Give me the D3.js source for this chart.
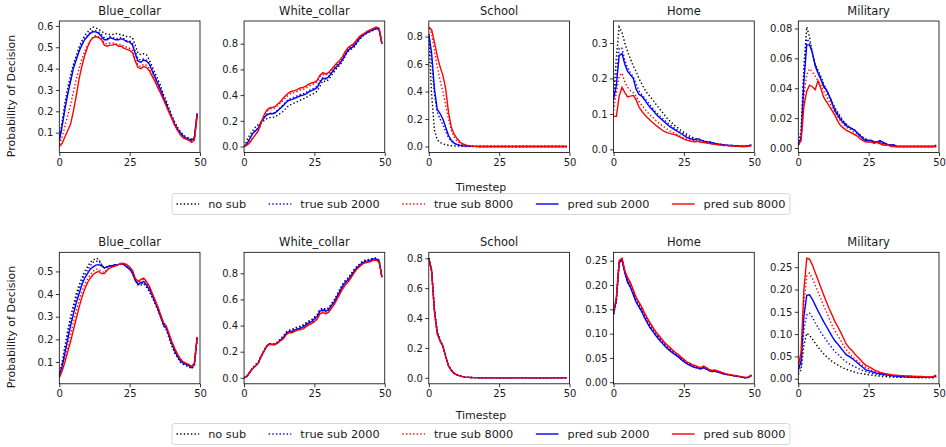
<!DOCTYPE html>
<html lang="en">
<head>
<meta charset="utf-8">
<title>Probability of Decision</title>
<script src="https://cdn.jsdelivr.net/npm/d3@7"></script>
<style>
  body { margin: 0; background: #fff; }
  svg text { font-family: "DejaVu Sans", sans-serif; fill: #1a1a1a; }
</style>
</head>
<body>
<div id="chart"></div>
<script>
// ---- data ----
const timesteps = d3.range(50);
const panelTitles = ["Blue_collar", "White_collar", "School", "Home", "Military"];
const seriesNames = ["no sub", "true sub 2000", "true sub 8000", "pred sub 2000", "pred sub 8000"];

// top row
const topBlueNo  = [0.07,0.15,0.24,0.31,0.37,0.42,0.46,0.50,0.53,0.555, 0.57,0.585,0.595,0.59,0.585,0.575,0.565,0.56,0.56,0.56, 0.565,0.56,0.56,0.555,0.55,0.55,0.545,0.51,0.47,0.465, 0.47,0.465,0.44,0.41,0.38,0.35,0.32,0.28,0.25,0.215, 0.18,0.15,0.125,0.105,0.09,0.08,0.075,0.07,0.08,0.19];
const topBlueTr2 = [0.065,0.135,0.215,0.285,0.345,0.405,0.445,0.485,0.515,0.54, 0.555,0.57,0.578,0.577,0.572,0.56,0.545,0.54,0.55,0.545, 0.54,0.54,0.545,0.54,0.53,0.53,0.52,0.48,0.445,0.44, 0.445,0.44,0.425,0.395,0.365,0.335,0.305,0.27,0.24,0.205, 0.175,0.145,0.12,0.1,0.085,0.075,0.07,0.065,0.075,0.19];
const topBlueTr8 = [0.045,0.08,0.13,0.18,0.23,0.29,0.35,0.40,0.445,0.48, 0.51,0.53,0.55,0.555,0.55,0.54,0.52,0.515,0.52,0.52, 0.515,0.51,0.515,0.505,0.5,0.495,0.485,0.445,0.415,0.41, 0.42,0.415,0.4,0.375,0.345,0.32,0.29,0.26,0.23,0.2, 0.17,0.14,0.115,0.095,0.08,0.07,0.065,0.06,0.07,0.185];
const topBluePr2 = [0.06,0.13,0.21,0.28,0.34,0.40,0.44,0.48,0.51,0.535, 0.55,0.565,0.573,0.572,0.565,0.55,0.535,0.535,0.545,0.54, 0.535,0.535,0.54,0.535,0.525,0.525,0.51,0.47,0.435,0.43, 0.44,0.435,0.42,0.39,0.36,0.33,0.30,0.265,0.235,0.2, 0.17,0.14,0.115,0.1,0.085,0.075,0.07,0.065,0.075,0.19];
const topBluePr8 = [0.035,0.05,0.08,0.11,0.14,0.20,0.27,0.35,0.41,0.46, 0.50,0.53,0.545,0.549,0.545,0.535,0.51,0.505,0.51,0.51, 0.515,0.505,0.505,0.495,0.49,0.485,0.475,0.435,0.405,0.4, 0.41,0.405,0.39,0.365,0.34,0.31,0.285,0.255,0.225,0.195, 0.165,0.135,0.11,0.09,0.075,0.07,0.065,0.055,0.065,0.18];

const topWhiteNo  = [0.0,0.05,0.09,0.12,0.15,0.17,0.18,0.2,0.215,0.225, 0.225,0.23,0.245,0.26,0.275,0.3,0.32,0.33,0.34,0.35, 0.36,0.37,0.38,0.395,0.405,0.415,0.43,0.47,0.51,0.505, 0.52,0.55,0.58,0.61,0.63,0.665,0.705,0.74,0.755,0.77, 0.8,0.83,0.855,0.87,0.885,0.895,0.905,0.915,0.905,0.8];
const topWhiteTr2 = [0.0,0.02,0.06,0.1,0.125,0.145,0.19,0.225,0.25,0.26, 0.26,0.265,0.285,0.305,0.325,0.35,0.37,0.375,0.385,0.395, 0.405,0.41,0.42,0.435,0.445,0.455,0.47,0.51,0.535,0.53, 0.545,0.575,0.6,0.63,0.65,0.68,0.72,0.755,0.77,0.785, 0.815,0.845,0.865,0.88,0.89,0.9,0.91,0.92,0.91,0.8];
const topWhiteTr8 = [0.0,0.01,0.035,0.065,0.09,0.12,0.17,0.23,0.27,0.29, 0.295,0.3,0.32,0.34,0.36,0.385,0.405,0.415,0.42,0.43, 0.44,0.445,0.455,0.47,0.48,0.49,0.505,0.545,0.56,0.555, 0.565,0.59,0.615,0.64,0.66,0.69,0.73,0.76,0.78,0.795, 0.825,0.85,0.865,0.88,0.895,0.905,0.915,0.925,0.915,0.8];
const topWhitePr2 = [0.0,0.02,0.06,0.1,0.12,0.14,0.19,0.22,0.245,0.255, 0.255,0.26,0.28,0.3,0.32,0.345,0.36,0.365,0.375,0.385, 0.395,0.4,0.41,0.425,0.435,0.445,0.46,0.5,0.53,0.525, 0.54,0.57,0.6,0.625,0.645,0.675,0.715,0.75,0.765,0.78, 0.81,0.84,0.86,0.875,0.89,0.9,0.91,0.92,0.91,0.8];
const topWhitePr8 = [0.0,0.01,0.03,0.06,0.09,0.12,0.18,0.24,0.28,0.30, 0.305,0.31,0.33,0.35,0.38,0.40,0.42,0.43,0.435,0.445, 0.455,0.46,0.47,0.485,0.495,0.5,0.515,0.555,0.575,0.565, 0.575,0.6,0.625,0.65,0.67,0.7,0.74,0.77,0.785,0.8, 0.83,0.855,0.87,0.885,0.9,0.91,0.92,0.93,0.92,0.8];

const topSchoolNo  = [0.8,0.38,0.12,0.05,0.03,0.02,0.013,0.009,0.006,0.004, 0.003,0.002,0.001,0.001,0,0,0,0,0,0, 0,0,0,0,0,0,0,0,0,0, 0,0,0,0,0,0,0,0,0,0, 0,0,0,0,0,0,0,0,0,0];
const topSchoolTr2 = [0.82,0.62,0.38,0.25,0.2,0.16,0.11,0.065,0.04,0.022, 0.013,0.008,0.005,0.003,0.002,0.001,0.001,0,0,0, 0,0,0,0,0,0,0,0,0,0, 0,0,0,0,0,0,0,0,0,0, 0,0,0,0,0,0,0,0,0,0];
const topSchoolTr8 = [0.86,0.82,0.7,0.58,0.48,0.4,0.3,0.2,0.12,0.07, 0.04,0.025,0.014,0.008,0.005,0.003,0.002,0.001,0,0, 0,0,0,0,0,0,0,0,0,0, 0,0,0,0,0,0,0,0,0,0, 0,0,0,0,0,0,0,0,0,0];
const topSchoolPr2 = [0.82,0.68,0.42,0.27,0.24,0.2,0.14,0.08,0.045,0.025, 0.015,0.01,0.006,0.004,0.003,0.002,0.001,0.001,0,0, 0,0,0,0,0,0,0,0,0,0, 0,0,0,0,0,0,0,0,0,0, 0,0,0,0,0,0,0,0,0,0];
const topSchoolPr8 = [0.87,0.85,0.76,0.66,0.58,0.52,0.42,0.25,0.14,0.09, 0.06,0.035,0.02,0.012,0.007,0.004,0.002,0.001,0,0, 0,0,0,0,0,0,0,0,0,0, 0,0,0,0,0,0,0,0,0,0, 0,0,0,0,0,0,0,0,0,0];

const topHomeNo  = [0.15,0.26,0.345,0.33,0.3,0.275,0.255,0.235,0.22,0.2, 0.185,0.17,0.158,0.148,0.139,0.128,0.118,0.108,0.098,0.088, 0.08,0.073,0.066,0.06,0.054,0.048,0.043,0.038,0.034,0.03, 0.028,0.026,0.024,0.022,0.02,0.018,0.016,0.015,0.014,0.013, 0.012,0.011,0.011,0.01,0.01,0.009,0.009,0.009,0.01,0.012];
const topHomeTr2 = [0.14,0.2,0.285,0.285,0.25,0.23,0.215,0.205,0.185,0.165, 0.155,0.145,0.135,0.125,0.115,0.105,0.097,0.09,0.083,0.076, 0.07,0.064,0.058,0.053,0.048,0.043,0.038,0.034,0.031,0.029, 0.03,0.027,0.024,0.022,0.021,0.019,0.017,0.015,0.014,0.013, 0.012,0.011,0.011,0.01,0.01,0.009,0.009,0.009,0.01,0.013];
const topHomeTr8 = [0.11,0.16,0.205,0.215,0.19,0.175,0.165,0.16,0.15,0.135, 0.125,0.115,0.105,0.097,0.09,0.082,0.075,0.069,0.063,0.057, 0.052,0.048,0.044,0.04,0.036,0.032,0.029,0.027,0.025,0.023, 0.025,0.022,0.02,0.019,0.018,0.016,0.015,0.014,0.013,0.012, 0.011,0.01,0.01,0.009,0.009,0.008,0.008,0.008,0.009,0.011];
const topHomePr2 = [0.14,0.18,0.265,0.27,0.24,0.22,0.21,0.2,0.17,0.155, 0.15,0.14,0.128,0.118,0.11,0.1,0.092,0.085,0.078,0.071, 0.064,0.059,0.054,0.049,0.044,0.039,0.034,0.031,0.028,0.027, 0.03,0.026,0.023,0.021,0.021,0.019,0.017,0.015,0.014,0.013, 0.012,0.011,0.011,0.01,0.01,0.009,0.009,0.009,0.01,0.013];
const topHomePr8 = [0.093,0.093,0.15,0.175,0.16,0.148,0.15,0.152,0.14,0.12, 0.108,0.098,0.09,0.082,0.075,0.068,0.062,0.056,0.051,0.047, 0.045,0.043,0.041,0.037,0.033,0.029,0.026,0.024,0.022,0.021, 0.023,0.02,0.019,0.018,0.017,0.015,0.014,0.013,0.012,0.011, 0.011,0.01,0.01,0.009,0.009,0.008,0.008,0.008,0.009,0.011];

const topMilNo  = [0.002,0.012,0.055,0.081,0.074,0.064,0.056,0.052,0.048,0.043, 0.039,0.035,0.031,0.027,0.024,0.021,0.018,0.016,0.014,0.013, 0.012,0.01,0.009,0.007,0.006,0.005,0.005,0.004,0.004,0.004, 0.003,0.003,0.002,0.002,0.002,0.001,0.001,0.001,0.001,0.001, 0.001,0.001,0.001,0.001,0.001,0.001,0.001,0.001,0.001,0.001];
const topMilTr2 = [0.002,0.01,0.05,0.073,0.071,0.063,0.056,0.051,0.047,0.042, 0.038,0.034,0.03,0.026,0.023,0.02,0.018,0.016,0.014,0.013, 0.012,0.01,0.008,0.007,0.006,0.005,0.005,0.004,0.004,0.004, 0.003,0.003,0.002,0.002,0.002,0.001,0.001,0.001,0.001,0.001, 0.001,0.001,0.001,0.001,0.001,0.001,0.001,0.001,0.001,0.001];
const topMilTr8 = [0.002,0.006,0.035,0.049,0.053,0.051,0.048,0.045,0.042,0.038, 0.035,0.031,0.027,0.024,0.021,0.018,0.016,0.014,0.013,0.012, 0.01,0.009,0.008,0.006,0.005,0.005,0.004,0.004,0.003,0.003, 0.003,0.002,0.002,0.002,0.001,0.001,0.001,0.001,0.001,0.001, 0.001,0.001,0.001,0.001,0.001,0.001,0.001,0.001,0.001,0.001];
const topMilPr2 = [0.002,0.007,0.045,0.069,0.069,0.064,0.055,0.05,0.046,0.041, 0.039,0.035,0.03,0.025,0.022,0.019,0.017,0.015,0.014,0.013, 0.012,0.01,0.008,0.006,0.005,0.005,0.005,0.004,0.004,0.005, 0.004,0.003,0.002,0.002,0.002,0.001,0.001,0.001,0.001,0.001, 0.001,0.001,0.001,0.001,0.001,0.001,0.001,0.001,0.001,0.002];
const topMilPr8 = [0.002,0.005,0.028,0.038,0.042,0.041,0.039,0.045,0.04,0.034, 0.031,0.028,0.025,0.022,0.018,0.015,0.0135,0.012,0.011,0.01, 0.009,0.008,0.006,0.005,0.004,0.004,0.004,0.003,0.004,0.003, 0.002,0.002,0.002,0.001,0.001,0.001,0.001,0.001,0.001,0.001, 0.001,0.001,0.001,0.001,0.001,0.001,0.001,0.001,0.001,0.001];

// bottom row
const botBlueNo  = [0.04,0.1,0.17,0.24,0.3,0.35,0.4,0.44,0.47,0.5, 0.52,0.54,0.55,0.558,0.555,0.53,0.515,0.52,0.525,0.525, 0.53,0.53,0.535,0.53,0.52,0.51,0.49,0.46,0.44,0.44, 0.445,0.43,0.41,0.385,0.36,0.33,0.3,0.26,0.245,0.205, 0.17,0.14,0.12,0.1,0.09,0.085,0.08,0.07,0.085,0.205];
const botBlueTr2 = [0.04,0.09,0.15,0.22,0.28,0.33,0.38,0.42,0.455,0.485, 0.505,0.525,0.54,0.545,0.545,0.53,0.515,0.52,0.525,0.525, 0.53,0.53,0.535,0.53,0.52,0.51,0.49,0.46,0.44,0.445, 0.45,0.435,0.415,0.39,0.36,0.33,0.3,0.26,0.245,0.21, 0.175,0.145,0.12,0.1,0.09,0.085,0.08,0.07,0.085,0.205];
const botBlueTr8 = [0.035,0.07,0.12,0.17,0.22,0.275,0.325,0.37,0.41,0.44, 0.465,0.485,0.5,0.51,0.51,0.5,0.495,0.51,0.52,0.52, 0.525,0.53,0.535,0.53,0.525,0.515,0.5,0.465,0.45,0.46, 0.465,0.45,0.43,0.4,0.37,0.34,0.305,0.27,0.255,0.22, 0.185,0.155,0.13,0.11,0.1,0.09,0.085,0.078,0.09,0.21];
const botBluePr2 = [0.04,0.08,0.14,0.2,0.26,0.31,0.36,0.4,0.44,0.47, 0.49,0.51,0.52,0.528,0.53,0.525,0.515,0.52,0.525,0.525, 0.53,0.53,0.535,0.53,0.52,0.51,0.495,0.46,0.445,0.45, 0.455,0.44,0.42,0.395,0.365,0.335,0.3,0.265,0.25,0.215, 0.18,0.15,0.125,0.105,0.095,0.09,0.085,0.075,0.09,0.21];
const botBluePr8 = [0.03,0.06,0.1,0.145,0.19,0.24,0.29,0.34,0.385,0.42, 0.45,0.47,0.485,0.495,0.5,0.49,0.49,0.505,0.515,0.52, 0.525,0.53,0.535,0.535,0.53,0.52,0.505,0.47,0.455,0.465, 0.47,0.455,0.435,0.405,0.375,0.345,0.31,0.275,0.26,0.225, 0.19,0.16,0.135,0.115,0.1,0.095,0.09,0.08,0.095,0.21];

const botWhiteNo  = [0.0,0.015,0.045,0.075,0.1,0.12,0.165,0.205,0.245,0.26, 0.26,0.26,0.275,0.3,0.32,0.35,0.365,0.37,0.38,0.39, 0.395,0.405,0.42,0.435,0.445,0.465,0.485,0.525,0.535,0.525, 0.535,0.565,0.595,0.635,0.675,0.715,0.745,0.765,0.795,0.825, 0.85,0.87,0.89,0.9,0.905,0.91,0.915,0.915,0.9,0.77];
const botWhiteTr2 = [0.0,0.01,0.045,0.075,0.095,0.115,0.165,0.205,0.245,0.26, 0.26,0.26,0.275,0.295,0.315,0.345,0.36,0.365,0.375,0.385, 0.39,0.4,0.415,0.43,0.44,0.46,0.48,0.52,0.53,0.52, 0.53,0.56,0.59,0.63,0.67,0.71,0.74,0.76,0.79,0.82, 0.845,0.865,0.885,0.895,0.9,0.905,0.915,0.915,0.9,0.77];
const botWhiteTr8 = [0.0,0.01,0.04,0.07,0.09,0.11,0.16,0.2,0.24,0.255, 0.255,0.255,0.268,0.288,0.305,0.335,0.35,0.35,0.36,0.37, 0.375,0.383,0.398,0.413,0.423,0.44,0.46,0.5,0.51,0.5, 0.51,0.54,0.57,0.61,0.65,0.69,0.72,0.745,0.775,0.805, 0.835,0.855,0.875,0.885,0.89,0.895,0.905,0.905,0.89,0.77];
const botWhitePr2 = [0.0,0.01,0.04,0.07,0.09,0.11,0.16,0.2,0.24,0.26, 0.255,0.255,0.27,0.29,0.31,0.34,0.355,0.355,0.365,0.375, 0.38,0.39,0.405,0.42,0.43,0.45,0.47,0.51,0.52,0.51, 0.52,0.55,0.58,0.62,0.66,0.7,0.73,0.75,0.78,0.81, 0.84,0.86,0.88,0.89,0.895,0.9,0.91,0.91,0.895,0.77];
const botWhitePr8 = [0.0,0.01,0.04,0.07,0.09,0.11,0.16,0.2,0.24,0.255, 0.255,0.255,0.265,0.285,0.3,0.33,0.345,0.345,0.355,0.365, 0.37,0.375,0.39,0.405,0.415,0.43,0.45,0.49,0.5,0.49, 0.5,0.53,0.56,0.6,0.64,0.68,0.71,0.735,0.765,0.8, 0.83,0.85,0.87,0.88,0.885,0.89,0.9,0.9,0.885,0.77];

const botSchoolNo  = [0.8,0.72,0.46,0.31,0.255,0.215,0.145,0.085,0.052,0.032, 0.02,0.013,0.008,0.005,0.003,0.002,0.001,0.001,0,0, 0,0,0,0,0,0,0,0,0,0, 0,0,0,0,0,0,0,0,0,0, 0,0,0,0,0,0,0,0,0,0];
const botSchoolTr2 = [0.8,0.72,0.46,0.305,0.25,0.21,0.14,0.082,0.05,0.03, 0.02,0.013,0.008,0.005,0.003,0.002,0.001,0.001,0,0, 0,0,0,0,0,0,0,0,0,0, 0,0,0,0,0,0,0,0,0,0, 0,0,0,0,0,0,0,0,0,0];
const botSchoolTr8 = [0.8,0.71,0.45,0.3,0.25,0.21,0.14,0.08,0.05,0.03, 0.02,0.013,0.008,0.005,0.003,0.002,0.001,0.001,0,0, 0,0,0,0,0,0,0,0,0,0, 0,0,0,0,0,0,0,0,0,0, 0,0,0,0,0,0,0,0,0,0];
const botSchoolPr2 = [0.8,0.72,0.455,0.3,0.25,0.215,0.145,0.082,0.05,0.03, 0.02,0.013,0.008,0.005,0.003,0.002,0.001,0.001,0,0, 0,0,0,0,0,0,0,0,0,0, 0,0,0,0,0,0,0,0,0,0, 0,0,0,0,0,0,0,0,0,0];
const botSchoolPr8 = [0.8,0.71,0.44,0.295,0.245,0.21,0.14,0.08,0.048,0.03, 0.02,0.013,0.008,0.005,0.003,0.002,0.001,0.001,0,0, 0,0,0,0,0,0,0,0,0,0, 0,0,0,0,0,0,0,0,0,0, 0,0,0,0,0,0,0,0,0,0];

const botHomeNo  = [0.14,0.165,0.245,0.252,0.226,0.208,0.198,0.183,0.168,0.158, 0.148,0.136,0.125,0.115,0.106,0.098,0.091,0.084,0.077,0.071, 0.066,0.061,0.057,0.053,0.048,0.043,0.039,0.036,0.033,0.031, 0.029,0.027,0.03,0.027,0.024,0.022,0.023,0.021,0.019,0.017, 0.016,0.015,0.014,0.013,0.012,0.011,0.01,0.009,0.01,0.014];
const botHomeTr2 = [0.14,0.17,0.25,0.255,0.228,0.21,0.2,0.185,0.17,0.16, 0.15,0.138,0.127,0.117,0.108,0.1,0.093,0.086,0.079,0.073, 0.068,0.063,0.058,0.054,0.049,0.044,0.04,0.037,0.034,0.032, 0.03,0.028,0.031,0.028,0.025,0.023,0.024,0.022,0.02,0.018, 0.016,0.015,0.014,0.013,0.012,0.011,0.01,0.009,0.01,0.014];
const botHomeTr8 = [0.142,0.172,0.248,0.254,0.229,0.212,0.202,0.188,0.173,0.163, 0.153,0.141,0.13,0.12,0.111,0.102,0.095,0.088,0.081,0.075, 0.07,0.064,0.059,0.055,0.05,0.045,0.041,0.038,0.035,0.033, 0.031,0.029,0.032,0.029,0.026,0.024,0.024,0.022,0.02,0.018, 0.016,0.015,0.014,0.013,0.012,0.011,0.01,0.009,0.01,0.014];
const botHomePr2 = [0.14,0.17,0.245,0.252,0.225,0.205,0.195,0.18,0.165,0.155, 0.145,0.133,0.122,0.112,0.104,0.096,0.089,0.082,0.076,0.07, 0.065,0.06,0.056,0.052,0.047,0.042,0.038,0.035,0.032,0.03, 0.029,0.027,0.03,0.027,0.024,0.022,0.023,0.021,0.019,0.017, 0.016,0.015,0.014,0.013,0.012,0.011,0.01,0.009,0.01,0.014];
const botHomePr8 = [0.145,0.175,0.25,0.255,0.23,0.215,0.205,0.19,0.175,0.165, 0.155,0.143,0.132,0.122,0.113,0.104,0.097,0.09,0.083,0.077, 0.072,0.066,0.061,0.057,0.052,0.047,0.042,0.039,0.036,0.034, 0.032,0.03,0.033,0.03,0.026,0.024,0.025,0.023,0.021,0.019, 0.017,0.016,0.015,0.014,0.013,0.012,0.011,0.01,0.011,0.015];

const botMilNo  = [0.01,0.02,0.075,0.102,0.097,0.089,0.08,0.071,0.063,0.056, 0.05,0.044,0.039,0.035,0.031,0.027,0.024,0.021,0.019,0.017, 0.015,0.013,0.012,0.011,0.01,0.009,0.008,0.007,0.006,0.006, 0.005,0.005,0.004,0.004,0.004,0.003,0.003,0.003,0.003,0.003, 0.003,0.003,0.002,0.002,0.002,0.002,0.002,0.002,0.002,0.003];
const botMilTr2 = [0.015,0.03,0.11,0.143,0.147,0.138,0.126,0.115,0.104,0.095, 0.086,0.077,0.069,0.061,0.055,0.049,0.043,0.038,0.034,0.03, 0.027,0.024,0.021,0.018,0.016,0.014,0.012,0.011,0.01,0.009, 0.008,0.007,0.006,0.006,0.005,0.005,0.004,0.004,0.004,0.004, 0.004,0.003,0.003,0.003,0.003,0.003,0.003,0.003,0.003,0.005];
const botMilTr8 = [0.02,0.05,0.17,0.23,0.237,0.225,0.21,0.195,0.18,0.164, 0.15,0.135,0.12,0.108,0.097,0.087,0.075,0.065,0.058,0.051, 0.045,0.04,0.034,0.029,0.025,0.022,0.019,0.016,0.014,0.012, 0.011,0.01,0.009,0.008,0.007,0.007,0.006,0.006,0.005,0.005, 0.005,0.005,0.005,0.004,0.004,0.004,0.004,0.004,0.004,0.006];
const botMilPr2 = [0.02,0.04,0.14,0.187,0.188,0.178,0.165,0.152,0.14,0.128, 0.117,0.106,0.095,0.085,0.078,0.07,0.062,0.054,0.05,0.046, 0.041,0.036,0.03,0.025,0.02,0.018,0.016,0.014,0.012,0.011, 0.01,0.009,0.008,0.007,0.006,0.006,0.005,0.005,0.005,0.004, 0.004,0.004,0.004,0.004,0.004,0.003,0.003,0.003,0.004,0.006];
const botMilPr8 = [0.03,0.06,0.2,0.27,0.268,0.255,0.238,0.222,0.205,0.188, 0.172,0.157,0.143,0.128,0.117,0.105,0.092,0.078,0.07,0.064, 0.056,0.049,0.043,0.036,0.03,0.027,0.024,0.02,0.017,0.014, 0.013,0.011,0.01,0.009,0.008,0.008,0.007,0.007,0.006,0.006, 0.006,0.005,0.005,0.005,0.005,0.004,0.004,0.004,0.005,0.008];

// tick labels
const xTicks = [0, 25, 50];
const topYTicks = [[0.1,0.2,0.3,0.4,0.5,0.6],[0,0.2,0.4,0.6,0.8],[0,0.2,0.4,0.6,0.8],[0,0.1,0.2,0.3],[0,0.02,0.04,0.06,0.08]];
const botYTicks = [[0.1,0.2,0.3,0.4,0.5],[0,0.2,0.4,0.6,0.8],[0,0.2,0.4,0.6,0.8],[0,0.05,0.1,0.15,0.2,0.25],[0,0.05,0.1,0.15,0.2,0.25]];
const topYFormat = [".1f",".1f",".1f",".1f",".2f"];
const botYFormat = [".1f",".1f",".1f",".2f",".2f"];

// ---- layout / style ----
const W = 946, H = 447;
const panelW = 140.7, panelH = 131.5, panelStep = 184.75, panelX0 = 59.3;
const seriesStyle = [
  {color: "#000000", dash: "1.4,2.2"},
  {color: "#0000ff", dash: "1.4,2.2"},
  {color: "#ff0000", dash: "1.4,2.2"},
  {color: "#0000ff", dash: null},
  {color: "#ff0000", dash: null}
];

const rows = [
  {
    top: 21, labelY: 96, xlabelY: 187, legendY: 204,
    ticks: topYTicks, fmt: topYFormat,
    panels: [
      [topBlueNo, topBlueTr2, topBlueTr8, topBluePr2, topBluePr8],
      [topWhiteNo, topWhiteTr2, topWhiteTr8, topWhitePr2, topWhitePr8],
      [topSchoolNo, topSchoolTr2, topSchoolTr8, topSchoolPr2, topSchoolPr8],
      [topHomeNo, topHomeTr2, topHomeTr8, topHomePr2, topHomePr8],
      [topMilNo, topMilTr2, topMilTr8, topMilPr2, topMilPr8]
    ]
  },
  {
    top: 252.3, labelY: 327, xlabelY: 415, legendY: 434,
    ticks: botYTicks, fmt: botYFormat,
    panels: [
      [botBlueNo, botBlueTr2, botBlueTr8, botBluePr2, botBluePr8],
      [botWhiteNo, botWhiteTr2, botWhiteTr8, botWhitePr2, botWhitePr8],
      [botSchoolNo, botSchoolTr2, botSchoolTr8, botSchoolPr2, botSchoolPr8],
      [botHomeNo, botHomeTr2, botHomeTr8, botHomePr2, botHomePr8],
      [botMilNo, botMilTr2, botMilTr8, botMilPr2, botMilPr8]
    ]
  }
];

const svg = d3.select("#chart").append("svg")
  .attr("width", W).attr("height", H)
  .attr("viewBox", `0 0 ${W} ${H}`);

const x = d3.scaleLinear().domain([0, 50]).range([0, panelW]);

rows.forEach(function(row, r) {
  row.panels.forEach(function(series, p) {
    const left = panelX0 + p * panelStep;
    const all = series.flat();
    const lo = d3.min(all), hi = d3.max(all);
    const pad = (hi - lo) * 0.05;
    const y = d3.scaleLinear().domain([lo - pad, hi + pad]).range([panelH, 0]);

    const g = svg.append("g").attr("transform", `translate(${left},${row.top})`);
    const clipId = `clip-${r}-${p}`;
    g.append("clipPath").attr("id", clipId)
      .append("rect").attr("width", panelW).attr("height", panelH);

    const line = d3.line()
      .x(function(d, i) { return x(timesteps[i]); })
      .y(function(d) { return y(d); });

    series.forEach(function(vals, s) {
      g.append("path")
        .datum(vals)
        .attr("clip-path", `url(#${clipId})`)
        .attr("fill", "none")
        .attr("stroke", seriesStyle[s].color)
        .attr("stroke-width", 1.4)
        .attr("stroke-dasharray", seriesStyle[s].dash)
        .attr("d", line);
    });

    // axes
    const xAxis = g.append("g")
      .attr("transform", `translate(0,${panelH})`)
      .call(d3.axisBottom(x).tickValues(xTicks).tickFormat(d3.format("d")).tickSize(3.5).tickPadding(2.5));
    const yAxis = g.append("g")
      .call(d3.axisLeft(y).tickValues(row.ticks[p]).tickFormat(d3.format(row.fmt[p])).tickSize(3.5).tickPadding(2.5));
    [xAxis, yAxis].forEach(function(a) {
      a.select(".domain").remove();
      a.selectAll("line").attr("stroke", "#000").attr("stroke-width", 0.8);
      a.selectAll("text").attr("font-size", 10).attr("fill", "#1a1a1a")
        .style("font-family", "DejaVu Sans, sans-serif");
    });

    // frame
    g.append("rect")
      .attr("width", panelW).attr("height", panelH)
      .attr("fill", "none").attr("stroke", "#000").attr("stroke-width", 0.8);

    // title
    g.append("text")
      .attr("x", panelW / 2).attr("y", -6)
      .attr("text-anchor", "middle")
      .attr("font-size", 11.5)
      .text(panelTitles[p]);
  });

  // y label
  svg.append("text")
    .attr("transform", `translate(15,${row.labelY}) rotate(-90)`)
    .attr("text-anchor", "middle")
    .attr("font-size", 11)
    .text("Probability of Decision");

  // x label
  svg.append("text")
    .attr("x", 481).attr("y", row.xlabelY)
    .attr("dy", "0.35em")
    .attr("text-anchor", "middle")
    .attr("font-size", 11)
    .text("Timestep");

  drawLegend(row.legendY);
});

function drawLegend(cy) {
  const fs = 11.3;
  const lg = svg.append("g");
  const box = lg.append("rect");
  const items = lg.append("g");
  let cx = 0;
  seriesNames.forEach(function(name, i) {
    const it = items.append("g").attr("transform", `translate(${cx},0)`);
    it.append("line")
      .attr("x1", 0).attr("x2", 2 * fs)
      .attr("stroke", seriesStyle[i].color)
      .attr("stroke-width", 1.4)
      .attr("stroke-dasharray", seriesStyle[i].dash);
    const t = it.append("text")
      .attr("x", 2.8 * fs).attr("dy", "0.35em")
      .attr("font-size", fs)
      .text(name);
    cx += 2.8 * fs + t.node().getComputedTextLength() + 2 * fs;
  });
  const contentW = cx - 2 * fs;
  const boxW = contentW + 0.8 * fs, boxH = 21;
  const x0 = 481 - boxW / 2;
  items.attr("transform", `translate(${x0 + 0.4 * fs},${cy})`);
  box.attr("x", x0).attr("y", cy - boxH / 2)
    .attr("width", boxW).attr("height", boxH)
    .attr("rx", 2.5)
    .attr("fill", "#fff").attr("fill-opacity", 0.8)
    .attr("stroke", "#cccccc").attr("stroke-width", 0.8);
}
</script>
</body>
</html>
